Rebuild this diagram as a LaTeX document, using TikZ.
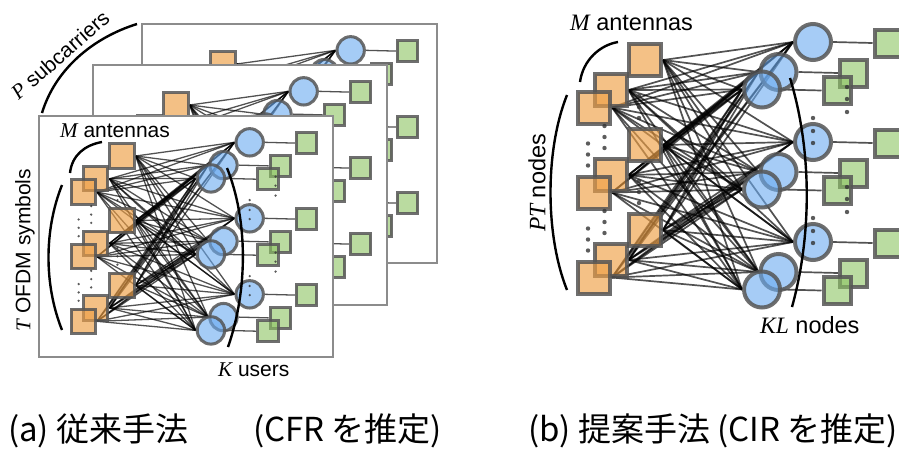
\documentclass[tikz,border=0pt]{standalone}
\usepackage{fontspec}
\setmainfont{Liberation Sans}
\newfontfamily\jpfont{Noto Sans CJK JP}
\newfontfamily\varfont{Liberation Serif}
\newcommand\mvar[1]{{\varfont\itshape #1}}

% one layer triple (frame, edges, nodes) per stacked sheet
\pgfdeclarelayer{f0}\pgfdeclarelayer{e0}\pgfdeclarelayer{n0}
\pgfdeclarelayer{f1}\pgfdeclarelayer{e1}\pgfdeclarelayer{n1}
\pgfdeclarelayer{f2}\pgfdeclarelayer{e2}\pgfdeclarelayer{n2}
\pgfsetlayers{f0,e0,n0,f1,e1,n1,f2,e2,n2,main}

\definecolor{antfill}{HTML}{EE9F45}
\definecolor{usrfill}{HTML}{6AAAF0}
\definecolor{symfill}{HTML}{8CC462}
\definecolor{rim}{HTML}{555555}
\definecolor{framegray}{HTML}{8C8C8C}

\tikzset{
  ant/.style={rectangle, fill=antfill, fill opacity=0.65, draw=rim, draw opacity=0.85, inner sep=0pt},
  usr/.style={circle, fill=usrfill, fill opacity=0.6, draw=rim, draw opacity=0.85, inner sep=0pt},
  sym/.style={rectangle, fill=symfill, fill opacity=0.6, draw=rim, draw opacity=0.85, inner sep=0pt},
  link/.style={draw=black, draw opacity=0.68},
  pdot/.style={fill=black!80, fill opacity=0.8},
  sheet/.style={draw=framegray, fill=white, line width=2.5pt},
  brace/.style={draw=black, line width=2.4pt},
  lbl/.style={inner sep=0pt, font=\fontsize{21}{25}\selectfont},
  lblb/.style={inner sep=0pt, font=\fontsize{23.5}{28}\selectfont},
  captext/.style={inner sep=0pt, font=\jpfont\fontsize{33}{38}\selectfont},
}

% #1 name prefix, #2/#3 position of the first antenna, #4 scale, #5 layer index
\newcommand\netsheet[5]{%
  \pgfmathsetmacro\osz{32*#4}%
  \pgfmathsetmacro\bsz{36*#4}%
  \pgfmathsetmacro\gsz{27*#4}%
  \pgfmathsetmacro\blw{4*#4}%
  \pgfmathsetmacro\elw{1.7*#4}%
  \pgfmathsetmacro\drad{2.2*#4}%
  \begin{scope}[shift={(#2,#3)}, scale=#4]
    \begin{pgfonlayer}{n#5}
      \foreach \l/\dx/\dy in {0/0/0, 1/-34.5/30, 2/-51/47.5}{
        \foreach \r in {0,1,2}{
          \node[ant, minimum size=\osz pt, line width=\blw pt] (#1o\l\r) at (\dx, \dy+85*\r) {};
          \node[usr, minimum size=\bsz pt, line width=\blw pt] (#1b\l\r) at (168+\dx, -18+\dy+100*\r) {};
          \node[sym, minimum size=\gsz pt, line width=\blw pt] (#1g\l\r) at (243+\dx, -17+\dy+100*\r) {};
        }}
      % vertical ellipses
      \foreach \dx/\dy in {0/0, -34.5/30, -51/47.5}{
        \foreach \r in {0,1}{
          \foreach \k in {36,47,58}
            \fill[pdot] (\dx-6, \dy+85*\r+\k) circle[radius=\drad];
        }}
      \foreach \r in {0,1}{
        \foreach \k in {76,89,101}
          \fill[pdot] (168, -18+100*\r+\k) circle[radius=\drad];
        \foreach \k in {-3,9,22}
          \fill[pdot] (202, 30+100*\r+\k) circle[radius=\drad];
      }
    \end{pgfonlayer}
    \begin{pgfonlayer}{e#5}
      \foreach \a in {0,1,2}{
        \foreach \i in {0,1,2}{
          \draw[link, line width=\elw pt] (#1b\a\i.east) -- (#1g\a\i.west);
          \foreach \b in {0,1,2}{
            \foreach \j in {0,1,2}
              \draw[link, line width=\elw pt] (#1o\a\i.east) -- (#1b\b\j.west);
          }}}
    \end{pgfonlayer}
  \end{scope}}

\begin{document}
\begin{tikzpicture}[x=1pt, y=-1pt]
  \useasboundingbox (0,0) rectangle (899,451);

  % ---- (a): three stacked subcarrier sheets ----
  \begin{pgfonlayer}{f0}
    \draw[sheet] (142,24) rectangle (437,263);
  \end{pgfonlayer}
  \netsheet{P}{223}{64}{0.76}{0}
  \begin{pgfonlayer}{f1}
    \draw[sheet] (93,65) rectangle (387,305);
  \end{pgfonlayer}
  \netsheet{Q}{176}{105}{0.76}{1}
  \begin{pgfonlayer}{f2}
    \draw[sheet] (39,116) rectangle (333,357);
  \end{pgfonlayer}
  \netsheet{R}{122}{156}{0.76}{2}

  \draw[brace] (42,113) .. controls (55,70) and (92,38) .. (137,24);
  \draw[brace] (70,173) .. controls (72,155) and (85,145) .. (102,142);
  \draw[brace] (62,185) .. controls (44,230) and (44,285) .. (62,330);
  \draw[brace] (227,168) .. controls (248,220) and (248,290) .. (228,347);

  \node[lbl, rotate=41] (psub) at (60,55) {\mvar{P} subcarriers};
  \node[lbl, anchor=base west] (manta) at (60,137) {\mvar{M} antennas};
  \node[lbl, rotate=90] (tsym) at (25,250) {\mvar{T} OFDM symbols};
  \node[lbl, anchor=base west] (kusr) at (218,376) {\mvar{K} users};

  % ---- (b): joint graph ----
  \netsheet{S}{645}{60}{1}{2}

  \draw[brace] (580,82) .. controls (583,60) and (600,45) .. (618,42);
  \draw[brace] (567,95) .. controls (545,150) and (545,235) .. (567,290);
  \draw[brace] (790,78) .. controls (812,150) and (812,235) .. (792,307);

  \node[lblb, anchor=base west] (mantb) at (570,30) {\mvar{M} antennas};
  \node[lblb, rotate=90] (ptn) at (537,183) {\mvar{PT} nodes};
  \node[lblb, anchor=base west] (kln) at (760,333) {\mvar{KL} nodes};

  % ---- captions ----
  \node[captext, anchor=base west] (capa) at (8,441) {(a) 従来手法};
  \node[captext, anchor=base west] (capa2) at (253,441) {(CFR を推定)};
  \node[captext, anchor=base west] (capb) at (528,441) {(b) 提案手法 (CIR を推定)};
\end{tikzpicture}
\end{document}
